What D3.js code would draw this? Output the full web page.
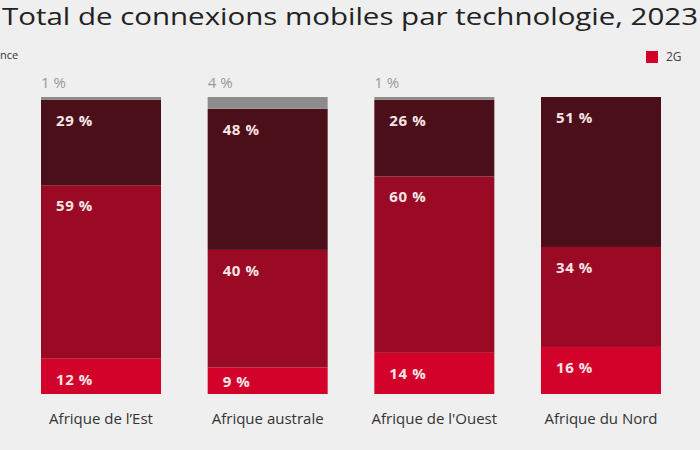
<!DOCTYPE html>
<html><head><meta charset="utf-8">
<script src="https://cdn.jsdelivr.net/npm/d3@7"></script>
<style>html,body{margin:0;padding:0;background:#efefef;overflow:hidden}svg{display:block}</style>
</head><body>
<script>
const categories = ["Afrique de l’Est", "Afrique australe", "Afrique de l'Ouest", "Afrique du Nord"];
const series = ["2G", "3G", "4G", "5G"];
const g2 = [12, 9, 14, 16];
const g3 = [59, 40, 60, 34];
const g4 = [29, 48, 26, 51];
const g5 = [1, 4, 1, 0];
const colors = ["#d3022b", "#9a0a25", "#4a0f19", "#8c8c8c"];

const W = 700, H = 450;
const svg = d3.select("body").append("svg").attr("width", W).attr("height", H);
svg.append("rect").attr("width", W).attr("height", H).attr("fill", "#efefef");

const font = "'Open Sans', Lato, sans-serif";

const data = categories.map((c, i) => ({cat: c, "2G": g2[i], "3G": g3[i], "4G": g4[i], "5G": g5[i]}));
const stacked = d3.stack().keys(series)(data);

const x = d3.scaleBand().domain(categories).range([17.67, 684.33]).paddingInner(0.28).paddingOuter(0.14);
const y = d3.scaleLinear().domain([0, 101]).range([394, 97]);
const color = d3.scaleOrdinal().domain(series).range(colors);

// title
svg.append("text").attr("x", 2).attr("y", 25)
  .attr("font-family", font).attr("font-size", 23).attr("fill", "#222")
  .attr("textLength", 696).attr("lengthAdjust", "spacingAndGlyphs")
  .text("Total de connexions mobiles par technologie, 2023");

// legend
svg.append("text").attr("x", 0).attr("y", 59)
  .attr("font-family", font).attr("font-size", 11).attr("fill", "#333").text("nce");
svg.append("rect").attr("x", 646).attr("y", 51).attr("width", 12).attr("height", 12).attr("fill", color("2G"));
svg.append("text").attr("x", 666).attr("y", 61).attr("font-family", font).attr("font-size", 12).attr("fill", "#444").text("2G");

// bars
const layers = svg.append("g").selectAll("g").data(stacked).join("g").attr("fill", d => color(d.key));
layers.selectAll("rect").data(d => d).join("rect")
  .attr("x", d => x(d.data.cat))
  .attr("y", d => y(d[1]))
  .attr("width", x.bandwidth())
  .attr("height", d => Math.max(0, y(d[0]) - y(d[1])));

// inner labels
stacked.filter(s => s.key !== "5G").forEach(s => {
  svg.append("g").selectAll("text").data(s).join("text")
    .attr("x", d => x(d.data.cat) + 15)
    .attr("y", d => Math.min(y(d[1]) + 20, y(d[0]) - 13))
    .attr("dominant-baseline", "central")
    .attr("font-family", font).attr("font-weight", "bold").attr("font-size", 15)
    .attr("letter-spacing", 0.6)
    .attr("fill", "#f6e4e6")
    .text(d => (d[1] - d[0]) + " %");
});

// top labels (5G)
const topLayer = stacked.find(s => s.key === "5G");
svg.append("g").selectAll("text").data(topLayer.filter(d => d[1] - d[0] > 0)).join("text")
  .attr("x", d => x(d.data.cat))
  .attr("y", y(101) - 15)
  .attr("dominant-baseline", "central")
  .attr("font-family", font).attr("font-size", 15).attr("fill", "#9a9a9a")
  .text(d => (d[1] - d[0]) + " %");

// category axis
const axis = svg.append("g").attr("transform", "translate(0,394)").call(d3.axisBottom(x).tickSize(0).tickPadding(19));
axis.select(".domain").remove();
axis.selectAll("text").attr("font-family", font).attr("font-size", 15).attr("fill", "#333");
</script>
</body></html>
